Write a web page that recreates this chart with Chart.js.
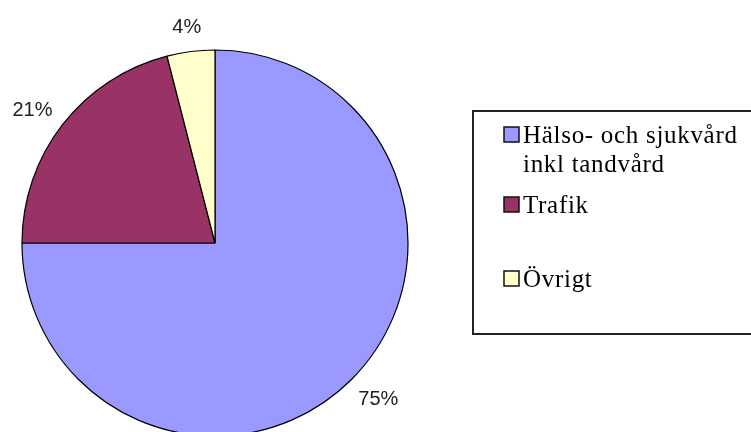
<!DOCTYPE html>
<html>
<head>
<meta charset="utf-8">
<script src="https://cdn.jsdelivr.net/npm/chart.js@4"></script>
<style>
  body { margin: 0; background: #fff; }
  canvas { display: block; }
</style>
</head>
<body>
<canvas id="myChart" width="751" height="432"></canvas>
<script>
const labels = [
    ['Hälso- och sjukvård', 'inkl tandvård'],
    ['Trafik'],
    ['Övrigt'],
];
const values = [75, 21, 4];
const colors = ['#9999ff', '#993366', '#ffffcc'];

// percent labels outside each slice
const pieLabels = {
    id: 'pieLabels',
    afterDatasetsDraw(chart) {
        const ctx = chart.ctx;
        const arcs = chart.getDatasetMeta(0).data;
        const total = values.reduce((a, b) => a + b, 0);
        ctx.save();
        ctx.font = '20px "Liberation Sans", Arial, sans-serif';
        ctx.fillStyle = '#222';
        ctx.textAlign = 'center';
        ctx.textBaseline = 'middle';
        arcs.forEach((arc, i) => {
            const mid = (arc.startAngle + arc.endAngle) / 2;
            const dx = Math.cos(mid), dy = Math.sin(mid);
            const text = Math.round(values[i] / total * 100) + '%';
            const w = ctx.measureText(text).width;
            const r = arc.outerRadius + 18;
            ctx.fillText(text, arc.x + dx * (r + w / 2), arc.y + dy * (r + 8) + 2);
        });
        ctx.restore();
    }
};

// boxed legend on the right
const boxLegend = {
    id: 'boxLegend',
    afterDraw(chart) {
        const ctx = chart.ctx;
        ctx.save();
        ctx.strokeStyle = '#222';
        ctx.lineWidth = 2;
        ctx.strokeRect(473, 111, 300, 223);
        ctx.font = '25px "Liberation Serif", "Times New Roman", serif';
        ctx.letterSpacing = '0.7px';
        ctx.textBaseline = 'alphabetic';
        const rows = [143, 213, 287];
        labels.forEach((lines, i) => {
            const y = rows[i];
            ctx.fillStyle = colors[i];
            ctx.fillRect(504, y - 16, 15, 15);
            ctx.lineWidth = 1.5;
            ctx.strokeStyle = '#111';
            ctx.strokeRect(504, y - 16, 15, 15);
            ctx.fillStyle = '#000';
            lines.forEach((line, j) => ctx.fillText(line, 523, y + j * 29));
        });
        ctx.restore();
    }
};

const data = {
    labels: labels,
    datasets: [{
        data: values,
        backgroundColor: colors,
        borderColor: '#000',
        borderWidth: 1.2,
        clip: false,
    }]
};

const config = {
    type: 'pie',
    data: data,
    options: {
        responsive: false,
        animation: false,
        radius: 193,
        layout: { padding: { left: 0, right: 321, top: 54, bottom: 0 } },
        plugins: {
            legend: { display: false },
            tooltip: { enabled: false },
        }
    },
    plugins: [pieLabels, boxLegend]
};

const myChart = new Chart(
    document.getElementById('myChart'),
    config
);
</script>
</body>
</html>
